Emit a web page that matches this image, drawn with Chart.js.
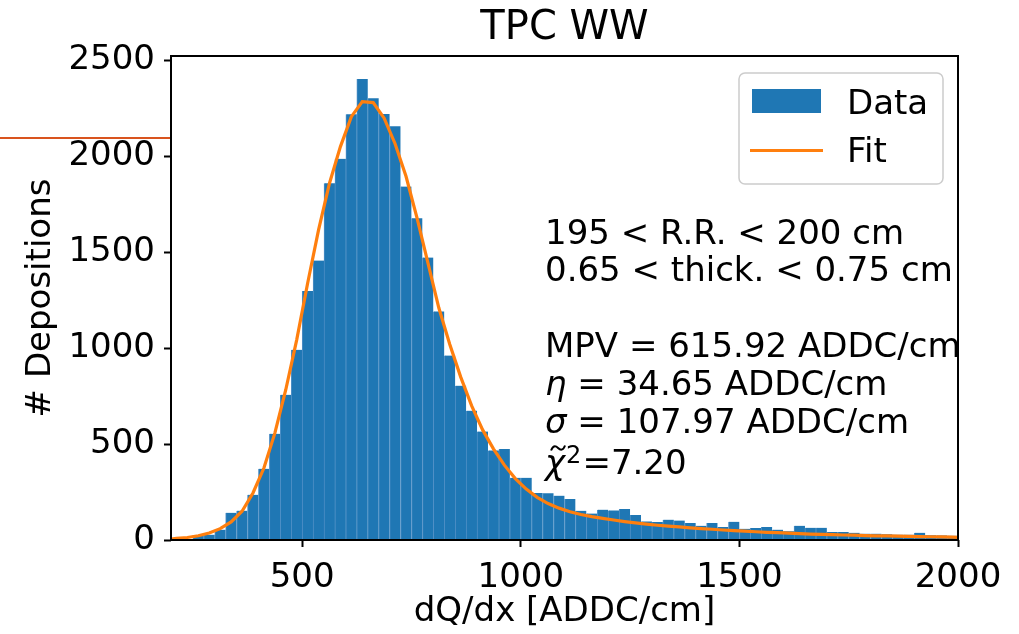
<!DOCTYPE html>
<html>
<head>
<meta charset="utf-8">
<script src="https://cdn.jsdelivr.net/npm/chart.js@4.4.0/dist/chart.umd.min.js"></script>
<style>
  html, body { margin: 0; padding: 0; background: #fff; }
  canvas { display: block; }
</style>
</head>
<body>
<canvas id="chart" width="1019" height="634"></canvas>
<script>
// dQ/dx histogram, 25 ADDC/cm bins from 200 to 2000
const binLow = 200;
const binWidth = 25;
const counts = [
	2, 4, 26, 28, 54, 142, 153, 236, 371, 553,
	757, 991, 1298, 1456, 1859, 1986, 2218, 2402, 2302, 2220,
	2156, 1842, 1676, 1472, 1191, 961, 804, 674, 565, 467,
	474, 324, 324, 245, 243, 231, 213, 152, 138, 158,
	154, 161, 130, 97, 94, 106, 101, 88, 74, 88,
	68, 95, 58, 63, 68, 54, 46, 74, 64, 64,
	42, 42, 38, 33, 33, 30, 28, 28, 38, 25,
	24, 22
];
const binCenters = counts.map((_, i) => binLow + binWidth * (i + 0.5));

// fit curve read at the bin centres (plus the two axis ends)
const fitX = [200].concat(binCenters, [2000]);
const fitY = [
	5,
	8, 13, 22, 36, 59, 94, 150, 245, 375, 557,
	783, 1043, 1338, 1616, 1859, 2050, 2206, 2284, 2279, 2198,
	2065, 1895, 1680, 1445, 1210, 1020, 850, 700, 575, 475,
	390, 320, 265, 222, 190, 166, 147, 133, 122, 113,
	104, 96, 89, 83, 77, 72, 68, 63, 59, 56,
	52, 49, 46, 43, 40, 38, 36, 33, 31, 29,
	28, 26, 25, 23, 22, 21, 20, 19, 18, 17,
	16, 15,
	14
];

const xTicks = [500, 1000, 1500, 2000];
const yTicks = [0, 500, 1000, 1500, 2000, 2500];
const yMax = 2522;

const rangeLines = ['195 < R.R. < 200 cm', '0.65 < thick. < 0.75 cm'];
const mpvText = 'MPV = 615.92 ADDC/cm';
const etaText = ' = 34.65 ADDC/cm';
const sigmaText = ' = 107.97 ADDC/cm';
const chi2Text = '=7.20';

// stray red line left of the axes in the original figure
const stubLineValue = 2095;

const FONT = '"DejaVu Sans", sans-serif';
const FS = 34;
Chart.defaults.font.family = FONT;
Chart.defaults.color = '#000';

// frame, text box and legend
const annotations = {
	id: 'annotations',
	afterDraw(chart) {
		const ctx = chart.ctx;
		const area = chart.chartArea;
		ctx.save();

		// axes frame
		ctx.strokeStyle = '#000';
		ctx.lineWidth = 2;
		ctx.strokeRect(area.left, area.top, area.right - area.left, area.bottom - area.top);

		// stub line
		const sy = chart.scales.y.getPixelForValue(stubLineValue);
		ctx.strokeStyle = '#d9541e';
		ctx.lineWidth = 2;
		ctx.beginPath();
		ctx.moveTo(0, sy);
		ctx.lineTo(area.left - 1, sy);
		ctx.stroke();

		// fit info text
		ctx.fillStyle = '#000';
		ctx.textBaseline = 'alphabetic';
		ctx.textAlign = 'left';
		const tx = area.left + 374;
		const normal = FS + 'px ' + FONT;
		const italic = 'italic ' + FS + 'px ' + FONT;
		ctx.font = normal;
		ctx.fillText(rangeLines[0], tx, area.top + 187.5);
		ctx.fillText(rangeLines[1], tx, area.top + 225);
		ctx.fillText(mpvText, tx, area.top + 301);

		let by = area.top + 338.5;
		ctx.font = italic;
		ctx.fillText('η', tx, by);
		let w = ctx.measureText('η').width;
		ctx.font = normal;
		ctx.fillText(etaText, tx + w, by);

		by = area.top + 377;
		ctx.font = italic;
		ctx.fillText('σ', tx, by);
		w = ctx.measureText('σ').width;
		ctx.font = normal;
		ctx.fillText(sigmaText, tx + w, by);

		// chi-tilde squared
		by = area.top + 418;
		ctx.font = italic;
		ctx.fillText('χ', tx, by);
		w = ctx.measureText('χ').width;
		const cx = tx + w / 2 + 3;
		const cy = by - 26;
		ctx.strokeStyle = '#000';
		ctx.lineWidth = 2;
		ctx.beginPath();
		ctx.moveTo(cx - 7, cy + 2.5);
		ctx.bezierCurveTo(cx - 4.5, cy - 4, cx - 1.5, cy - 1.5, cx, cy);
		ctx.bezierCurveTo(cx + 1.5, cy + 1.5, cx + 4.5, cy + 4, cx + 7, cy - 2.5);
		ctx.stroke();
		ctx.font = '24px ' + FONT;
		ctx.fillText('2', tx + w + 1, by - 11);
		const w2 = ctx.measureText('2').width;
		ctx.font = normal;
		ctx.fillText(chi2Text, tx + w + w2 + 2, by);

		// legend
		const lx = area.right - 219;
		const ly = area.top + 17;
		ctx.beginPath();
		ctx.roundRect(lx, ly, 204, 111, 6);
		ctx.fillStyle = 'rgba(255,255,255,0.8)';
		ctx.fill();
		ctx.strokeStyle = '#cccccc';
		ctx.lineWidth = 1.5;
		ctx.stroke();
		ctx.fillStyle = chart.data.datasets[0].backgroundColor;
		ctx.fillRect(lx + 13, ly + 16, 69, 24);
		ctx.strokeStyle = chart.data.datasets[1].borderColor;
		ctx.lineWidth = 3;
		ctx.beginPath();
		ctx.moveTo(lx + 11, ly + 77.5);
		ctx.lineTo(lx + 84, ly + 77.5);
		ctx.stroke();
		ctx.fillStyle = '#000';
		ctx.font = normal;
		ctx.fillText(chart.data.datasets[0].label, lx + 108, ly + 41);
		ctx.fillText(chart.data.datasets[1].label, lx + 108, ly + 89);

		ctx.restore();
	}
};

const tickGrid = {
	drawOnChartArea: false,
	drawTicks: true,
	tickLength: 7,
	tickWidth: 2,
	tickColor: '#000',
	color: '#000',
	offset: false
};

const plainLabel = (v) => String(v);

new Chart(document.getElementById('chart'), {
	type: 'bar',
	data: {
		datasets: [
			{
				type: 'bar',
				label: 'Data',
				data: binCenters.map((x, i) => ({ x: x, y: counts[i] })),
				backgroundColor: '#1f77b4',
				borderColor: '#4f8fc6',
				borderWidth: { left: 1, right: 0, top: 0, bottom: 0 },
				borderSkipped: false,
				barPercentage: 1,
				categoryPercentage: 1,
				order: 2
			},
			{
				type: 'line',
				label: 'Fit',
				data: fitX.map((x, i) => ({ x: x, y: fitY[i] })),
				borderColor: '#ff7f0e',
				borderWidth: 3.2,
				pointRadius: 0,
				tension: 0,
				fill: false,
				order: 1
			}
		]
	},
	options: {
		responsive: false,
		devicePixelRatio: 1,
		animation: false,
		layout: { padding: { left: 0, right: 61, top: 0, bottom: 0 } },
		plugins: {
			legend: { display: false },
			tooltip: { enabled: false },
			title: {
				display: true,
				text: 'TPC WW',
				color: '#000',
				fullSize: false,
				font: { size: 40, weight: 'normal' },
				padding: { top: 5, bottom: 3 }
			}
		},
		scales: {
			x: {
				type: 'linear',
				min: 200,
				max: 2000,
				offset: false,
				grid: tickGrid,
				border: { display: false },
				afterBuildTicks: (s) => { s.ticks = xTicks.map(v => ({ value: v })); },
				afterFit: (s) => { s.height = 94; },
				ticks: { font: { size: FS }, padding: 11, maxRotation: 0, autoSkip: false, callback: plainLabel },
				title: {
					display: true,
					text: 'dQ/dx [ADDC/cm]',
					font: { size: FS },
					padding: { top: 0, bottom: 1 }
				}
			},
			y: {
				min: 0,
				max: yMax,
				grid: tickGrid,
				border: { display: false },
				afterBuildTicks: (s) => { s.ticks = yTicks.map(v => ({ value: v })); },
				afterFit: (s) => { s.width = 171; },
				ticks: { font: { size: FS }, padding: 9, autoSkip: false, callback: plainLabel },
				title: {
					display: true,
					text: '# Depositions',
					font: { size: FS },
					padding: { top: 21, bottom: 0 }
				}
			}
		}
	},
	plugins: [annotations]
});
</script>
</body>
</html>
